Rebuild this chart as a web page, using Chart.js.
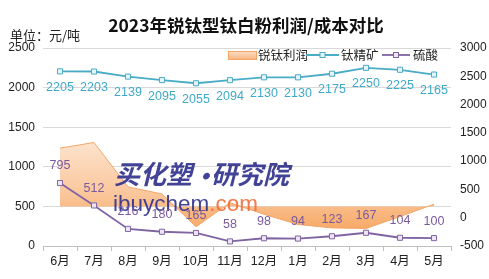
<!DOCTYPE html>
<html><head><meta charset="utf-8">
<script src="https://cdn.jsdelivr.net/npm/chart.js@4.4.0/dist/chart.umd.min.js"></script>
<style>html,body{margin:0;padding:0;background:#fff;overflow:hidden}</style>
</head><body>
<canvas id="c" width="489" height="279" style="width:489px;height:279px;display:block"></canvas>
<script>
const categories = ['6月','7月','8月','9月','10月','11月','12月','1月','2月','3月','4月','5月'];
const profit = [1230, 1330, 545, 420, -160, 265, 60, -120, -180, -190, 20, 240];
const titaniumOre = [2205, 2203, 2139, 2095, 2055, 2094, 2130, 2130, 2175, 2250, 2225, 2165];
const sulfuricAcid = [795, 512, 216, 180, 165, 58, 98, 94, 123, 167, 104, 100];
const leftTicks = [0, 500, 1000, 1500, 2000, 2500];
const rightTicks = [-500, 0, 500, 1000, 1500, 2000, 2500, 3000];
const seriesNames = ['锐钛利润', '钛精矿', '硫酸'];

const FONT = "'Liberation Sans','Noto Sans CJK SC',sans-serif";
const CJK = "'Noto Sans CJK SC','Liberation Sans',sans-serif";
const CYAN = '#4bacc6', PURPLE = '#8064a2', ORANGE_LINE = '#f3a568';

const extras = {
  id: 'extras',
  afterDatasetsDraw(chart) {
    const ctx = chart.ctx;
    ctx.save();
    // watermark
    ctx.globalAlpha = 0.9;
    ctx.fillStyle = '#2e2f8c';
    ctx.font = "italic bold 26px " + CJK;
    ctx.textBaseline = 'middle';
    ctx.textAlign = 'left';
    ctx.fillText('买化塑', 114, 174);
    ctx.fillText('研究院', 211, 174);
    ctx.textAlign = 'center';
    ctx.fillText('·', 204, 176);
    ctx.textAlign = 'left';
    ctx.font = "22.5px " + FONT;
    ctx.textBaseline = 'alphabetic';
    ctx.fillText('ibuychem', 113, 211);
    const w = ctx.measureText('ibuychem').width;
    ctx.fillStyle = '#f26b3a';
    ctx.fillText('.com', 113 + w, 211);
    ctx.globalAlpha = 1;
    // data labels
    ctx.font = "12.5px " + FONT;
    ctx.textAlign = 'center';
    ctx.textBaseline = 'middle';
    const m1 = chart.getDatasetMeta(1);
    ctx.fillStyle = '#3fa9c9';
    m1.data.forEach((p, i) => ctx.fillText(String(titaniumOre[i]), p.x, p.y + 16));
    const m2 = chart.getDatasetMeta(2);
    ctx.fillStyle = '#7a5a9e';
    m2.data.forEach((p, i) => ctx.fillText(String(sulfuricAcid[i]), p.x, p.y - 17));
    ctx.restore();
  },
  afterDraw(chart) {
    const ctx = chart.ctx;
    ctx.save();
    ctx.fillStyle = '#111';
    ctx.font = "bold 17.5px " + CJK;
    ctx.textAlign = 'center';
    ctx.textBaseline = 'middle';
    ctx.fillText('2023年锐钛型钛白粉利润/成本对比', 246, 25);
    ctx.font = "13px " + CJK;
    ctx.textAlign = 'left';
    ctx.fillStyle = '#222';
    ctx.fillText('单位：元/吨', 10, 35);
    // legend
    const ly = 55;
    const g = ctx.createLinearGradient(0, 51, 0, 60);
    g.addColorStop(0, '#fde2cb'); g.addColorStop(1, '#f8b07a');
    ctx.fillStyle = g;
    ctx.fillRect(228, 51.5, 29, 8);
    ctx.strokeStyle = ORANGE_LINE; ctx.lineWidth = 1;
    ctx.strokeRect(228.5, 51.5, 28, 8);
    ctx.fillStyle = '#222';
    ctx.font = "12.5px " + CJK;
    ctx.textBaseline = 'middle';
    ctx.fillText(seriesNames[0], 258, ly);
    const drawLineMark = (x0, x1, col, fill) => {
      ctx.strokeStyle = col; ctx.lineWidth = 1.8;
      ctx.beginPath(); ctx.moveTo(x0, ly); ctx.lineTo(x1, ly); ctx.stroke();
      const cx = (x0 + x1) / 2;
      ctx.fillStyle = fill; ctx.lineWidth = 1;
      ctx.fillRect(cx - 2.5, ly - 2.5, 5, 5);
      ctx.strokeRect(cx - 2.5, ly - 2.5, 5, 5);
    };
    drawLineMark(306, 339, CYAN, '#e4f4f8');
    ctx.fillStyle = '#222';
    ctx.fillText(seriesNames[1], 341, ly);
    drawLineMark(382, 410, PURPLE, '#ece6f3');
    ctx.fillStyle = '#222';
    ctx.fillText(seriesNames[2], 413, ly);
    ctx.restore();
  }
};

new Chart(document.getElementById('c'), {
  data: {
    labels: categories,
    datasets: [
      {
        type: 'line', label: seriesNames[0], data: profit, yAxisID: 'y1', order: 3,
        fill: { value: 200 }, tension: 0, pointRadius: 0, borderWidth: 1,
        borderColor: ORANGE_LINE,
        backgroundColor: (c) => {
          const ch = c.chart;
          if (!ch.chartArea) return '#f9c08f';
          const g = ch.ctx.createLinearGradient(0, 140, 0, 232);
          g.addColorStop(0, '#fde4cf');
          g.addColorStop(0.6, '#fac69a');
          g.addColorStop(1, '#f7a762');
          return g;
        }
      },
      {
        type: 'line', label: seriesNames[1], data: titaniumOre, yAxisID: 'y', order: 2,
        borderColor: CYAN, borderWidth: 1.8, tension: 0, fill: false,
        pointStyle: 'rect', pointRadius: 3.6, pointBorderWidth: 1,
        pointBackgroundColor: '#e4f4f8', pointBorderColor: CYAN
      },
      {
        type: 'line', label: seriesNames[2], data: sulfuricAcid, yAxisID: 'y', order: 1,
        borderColor: PURPLE, borderWidth: 1.8, tension: 0, fill: false,
        pointStyle: 'rect', pointRadius: 3.6, pointBorderWidth: 1,
        pointBackgroundColor: '#ece6f3', pointBorderColor: PURPLE
      }
    ]
  },
  options: {
    responsive: false, animation: false, devicePixelRatio: 1,
    layout: { padding: { top: 48, left: 0, right: 0, bottom: 0 } },
    plugins: { legend: { display: false }, tooltip: { enabled: false }, title: { display: false } },
    scales: {
      x: {
        type: 'category', offset: true,
        grid: { display: true, drawOnChartArea: false, drawTicks: true, tickLength: 5, offset: true, color: '#bfbfbf' },
        border: { display: true, color: '#bfbfbf', width: 1 },
        ticks: { font: { family: FONT, size: 12.5 }, color: '#222', padding: 3, maxRotation: 0, autoSkip: false },
        afterFit(s) { s.height = 33; }
      },
      y: {
        position: 'left', min: 0, max: 2500,
        afterBuildTicks(a) { a.ticks = leftTicks.map(v => ({ value: v })); },
        grid: { color: '#d9d9d9', drawTicks: false },
        border: { display: false },
        ticks: { font: { family: FONT, size: 12 }, color: '#222', padding: 8, callback: v => String(v) },
        afterFit(s) { s.width = 43; }
      },
      y1: {
        position: 'right', min: -500, max: 3000,
        afterBuildTicks(a) { a.ticks = rightTicks.map(v => ({ value: v })); },
        grid: { display: false, drawTicks: false },
        border: { display: false },
        ticks: { font: { family: FONT, size: 12 }, color: '#222', padding: 9, callback: v => String(v) },
        afterFit(s) { s.width = 38; }
      }
    }
  },
  plugins: [extras]
});
</script>
</body></html>
